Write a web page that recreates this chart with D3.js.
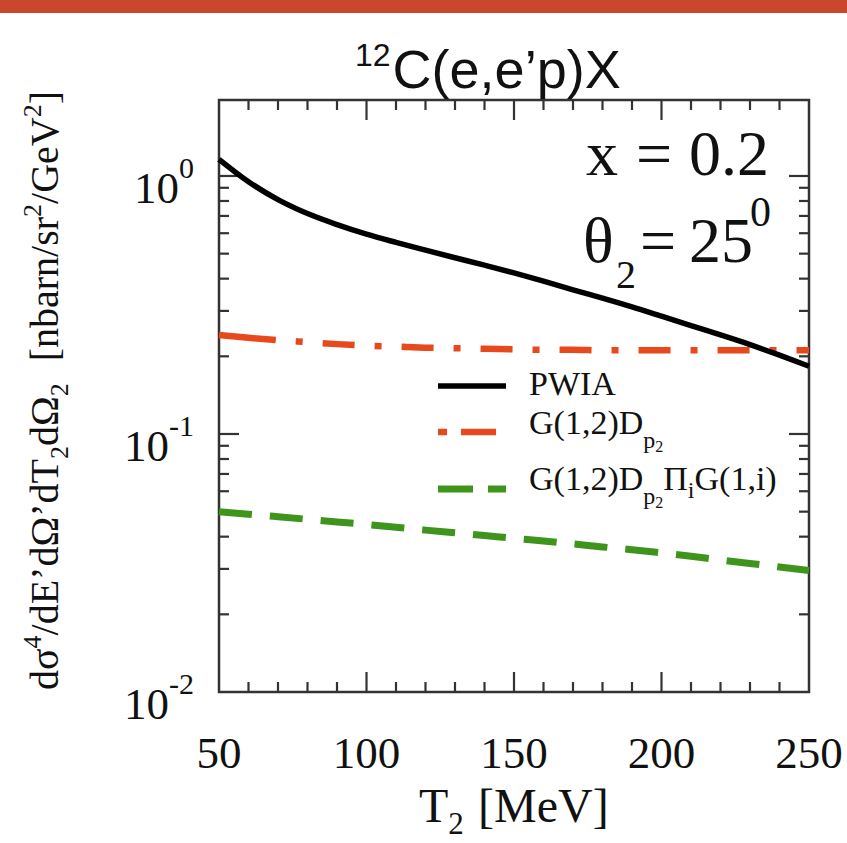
<!DOCTYPE html>
<html>
<head>
<meta charset="utf-8">
<script src="https://cdn.jsdelivr.net/npm/d3@7"></script>
<style>
  html, body { margin: 0; padding: 0; background: #fff; }
  svg { display: block; }
  .serif { font-family: "Liberation Serif", "Times New Roman", serif; fill: #111; }
  .sans { font-family: "Liberation Sans", Arial, sans-serif; fill: #111; }
</style>
</head>
<body>
<svg id="chart" width="847" height="843"></svg>
<script>
// Kinetic energy of the detected proton, T2 [MeV]
const t2 = [50, 60, 70, 80, 90, 100, 110, 120, 130, 140, 150, 160, 170, 180, 190, 200, 210, 220, 230, 240, 250];

// Cross sections [nbarn/sr^2/GeV^2]
const pwia = [1.16, 0.95, 0.81, 0.715, 0.648, 0.595, 0.553, 0.516, 0.482, 0.451, 0.421, 0.391, 0.362, 0.336, 0.311, 0.286, 0.263, 0.242, 0.222, 0.202, 0.183];
const gDp2 = [0.242, 0.236, 0.231, 0.227, 0.223, 0.220, 0.218, 0.216, 0.215, 0.214, 0.213, 0.212, 0.212, 0.211, 0.211, 0.211, 0.211, 0.211, 0.211, 0.211, 0.211];
const gDp2G = [0.0500, 0.0489, 0.0478, 0.0467, 0.0456, 0.0446, 0.0435, 0.0424, 0.0414, 0.0404, 0.0394, 0.0385, 0.0375, 0.0365, 0.0356, 0.0346, 0.0336, 0.0325, 0.0315, 0.0305, 0.0296];

const xTicks = [50, 100, 150, 200, 250];
const yDecades = [-2, -1, 0];

const svg = d3.select("#chart");

// slide banner strip along the top edge
svg.append("rect").attr("x", 0).attr("y", 0).attr("width", 847).attr("height", 13).attr("fill", "#c9472b");

const x = d3.scaleLinear().domain([50, 250]).range([219, 809]);
const y = d3.scaleLog().domain([0.01, 1.97]).range([692, 100]);

const frame = svg.append("g");
const X0 = x.range()[0], X1 = x.range()[1], Y0 = y.range()[0], Y1 = y.range()[1];

// ticks: major every 50, minor every 10, on bottom and top, pointing inward
d3.range(60, 250, 10).forEach(v => {
  const len = v % 50 === 0 ? 20 : 10;
  frame.append("line").attr("x1", x(v)).attr("x2", x(v)).attr("y1", Y0).attr("y2", Y0 - len);
  frame.append("line").attr("x1", x(v)).attr("x2", x(v)).attr("y1", Y1).attr("y2", Y1 + len);
});
// log ticks on left and right
yDecades.forEach(e => {
  for (let m = 1; m <= 9; m++) {
    const v = m * Math.pow(10, e);
    if (v <= 0.01 || v > 1.97) continue;
    const len = m === 1 ? 20 : 10;
    frame.append("line").attr("x1", X0).attr("x2", X0 + len).attr("y1", y(v)).attr("y2", y(v));
    frame.append("line").attr("x1", X1).attr("x2", X1 - len).attr("y1", y(v)).attr("y2", y(v));
  }
});
frame.selectAll("line").attr("stroke", "#333").attr("stroke-width", 2.2);
frame.append("rect").attr("x", X0).attr("y", Y1).attr("width", X1 - X0).attr("height", Y0 - Y1)
  .attr("fill", "none").attr("stroke", "#333").attr("stroke-width", 2.5);

// tick labels
svg.append("g").selectAll("text").data(xTicks).join("text")
  .attr("class", "serif").attr("x", d => x(d)).attr("y", 768)
  .attr("text-anchor", "middle").attr("font-size", 45).text(d => d);

const yl = svg.append("g").selectAll("text").data(yDecades).join("text")
  .attr("class", "serif").attr("x", 194).attr("y", d => y(Math.pow(10, d)) + 27)
  .attr("text-anchor", "end").attr("font-size", 45);
yl.append("tspan").text("10");
yl.append("tspan").attr("dy", -25).attr("font-size", 30).text(d => d === 0 ? "0" : String(d));

// curves
const line = d3.line().x((d, i) => x(t2[i])).y(d => y(d)).curve(d3.curveMonotoneX);
const plot = svg.append("g");
plot.append("path").datum(gDp2G).attr("d", line).attr("fill", "none")
  .attr("stroke", "#3f941c").attr("stroke-width", 7).attr("stroke-dasharray", "33,18");
plot.append("path").datum(gDp2).attr("d", line).attr("fill", "none")
  .attr("stroke", "#e8491c").attr("stroke-width", 6.5).attr("stroke-dasharray", "57,20,7,20,32,20,7,20,32,20,7,20,32,20,7,20,32,20,7,20,32,20,7,20,32,20,7,20,32,20,7,20,32,20");
plot.append("path").datum(pwia).attr("d", line).attr("fill", "none")
  .attr("stroke", "#000").attr("stroke-width", 5.5);

// title
const title = svg.append("text").attr("class", "sans").attr("x", 355).attr("y", 88).attr("font-size", 54);
title.append("tspan").attr("font-size", 32).attr("dy", -22).text("12");
title.append("tspan").attr("dy", 22).attr("dx", 2).text("C(e,e’p)X");

// kinematics annotation
const a1 = svg.append("text").attr("class", "serif").attr("y", 175).attr("font-size", 64);
a1.append("tspan").attr("x", 586).text("x");
a1.append("tspan").attr("x", 636).text("=");
a1.append("tspan").attr("x", 689).text("0.2");
const a2 = svg.append("text").attr("class", "serif").attr("y", 262).attr("font-size", 64);
a2.append("tspan").attr("x", 583).text("θ");
a2.append("tspan").attr("font-size", 40).attr("dy", 26).attr("x", 616).text("2");
a2.append("tspan").attr("dy", -26).attr("x", 640).text("=");
a2.append("tspan").attr("x", 689).text("25");
a2.append("tspan").attr("font-size", 42).attr("dy", -36).attr("x", 750).text("0");

// legend
const legend = svg.append("g");
const leg = [
  { y: 386, color: "#000", dash: null, w: 5.5 },
  { y: 432, color: "#e8491c", dash: "9,14,35,20", w: 6.5 },
  { y: 489, color: "#3f941c", dash: "35,15,20", w: 7 }
];
leg.forEach(d => {
  legend.append("line").attr("x1", 438).attr("x2", 506).attr("y1", d.y).attr("y2", d.y)
    .attr("stroke", d.color).attr("stroke-width", d.w).attr("stroke-dasharray", d.dash);
});
legend.append("text").attr("class", "serif").attr("x", 529).attr("y", 395).attr("font-size", 34).text("PWIA");
const l2 = legend.append("text").attr("class", "serif").attr("x", 529).attr("y", 434).attr("font-size", 34);
l2.append("tspan").text("G(1,2)D");
l2.append("tspan").attr("font-size", 24).attr("dy", 14).text("p");
l2.append("tspan").attr("font-size", 16).attr("dy", 4).text("2");
const l3 = legend.append("text").attr("class", "serif").attr("x", 529).attr("y", 490).attr("font-size", 34);
l3.append("tspan").text("G(1,2)D");
l3.append("tspan").attr("font-size", 24).attr("dy", 14).text("p");
l3.append("tspan").attr("font-size", 16).attr("dy", 4).text("2");
l3.append("tspan").attr("dy", -18).text("Π");
l3.append("tspan").attr("font-size", 24).attr("dy", 8).text("i");
l3.append("tspan").attr("dy", -8).text("G(1,i)");

// axis titles
const xt = svg.append("text").attr("class", "serif").attr("x", 419).attr("y", 822).attr("font-size", 48);
xt.append("tspan").text("T");
xt.append("tspan").attr("font-size", 31).attr("dy", 12).text("2");
xt.append("tspan").attr("dy", -12).attr("x", 478).text("[MeV]");

const yt = svg.append("text").attr("class", "serif").attr("font-size", 40)
  .attr("transform", "translate(58,690) rotate(-90)");
yt.append("tspan").text("dσ");
yt.append("tspan").attr("font-size", 26).attr("dy", -17).text("4");
yt.append("tspan").attr("dy", 17).text("/dE’dΩ’dT");
yt.append("tspan").attr("font-size", 26).attr("dy", 10).text("2");
yt.append("tspan").attr("dy", -10).text("dΩ");
yt.append("tspan").attr("font-size", 26).attr("dy", 10).text("2");
yt.append("tspan").attr("dy", -10).attr("dx", 22).text("[nbarn/sr");
yt.append("tspan").attr("font-size", 26).attr("dy", -17).text("2");
yt.append("tspan").attr("dy", 17).text("/GeV");
yt.append("tspan").attr("font-size", 26).attr("dy", -17).text("2");
yt.append("tspan").attr("dy", 17).text("]");
</script>
</body>
</html>
